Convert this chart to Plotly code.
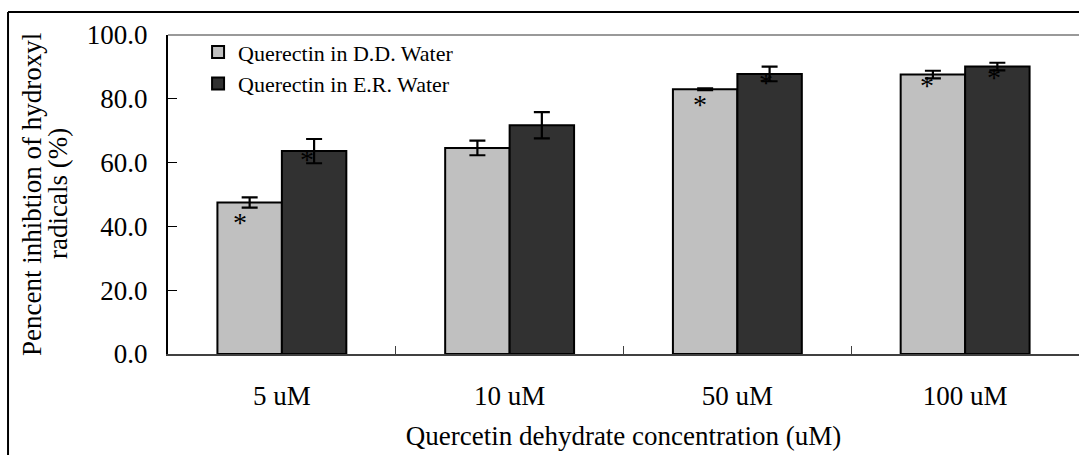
import plotly.graph_objects as go

categories = ["5 uM", "10 uM", "50 uM", "100 uM"]
dd_water = [47.5, 64.6, 83.0, 87.6]
dd_err = [1.6, 2.3, 0.3, 1.2]
er_water = [63.6, 71.7, 87.8, 90.1]
er_err = [3.8, 4.1, 2.3, 1.2]
dd_sig = [True, False, True, True]
er_sig = [True, False, True, True]
y_ticks = [0, 20, 40, 60, 80, 100]
y_ticklabels = ["0.0", "20.0", "40.0", "60.0", "80.0", "100.0"]

FONT = "Liberation Serif, Times New Roman, serif"

fig = go.Figure()
fig.add_trace(go.Bar(
    x=categories, y=dd_water, name="Querectin in D.D. Water",
    marker=dict(color="#C0C0C0", line=dict(color="#000000", width=2)),
    error_y=dict(type="data", array=dd_err, color="#000000", thickness=2.2, width=8),
    legendgroup="a",
))
fig.add_trace(go.Bar(
    x=categories, y=er_water, name="Querectin in E.R. Water",
    marker=dict(color="#313131", line=dict(color="#000000", width=2)),
    error_y=dict(type="data", array=er_err, color="#000000", thickness=2.2, width=8),
    legendgroup="b",
))

# significance asterisks
dd_shift = [(-42, -16), None, (-37, -11), (-38, -7)]
er_shift = [(25, -4), None, (29, -5), (29, -7)]
for i, c in enumerate(categories):
    for sig, vals, sh in ((dd_sig, dd_water, dd_shift), (er_sig, er_water, er_shift)):
        if sig[i] and sh is not None and sh[i] is not None:
            fig.add_annotation(x=c, y=vals[i], text="*", showarrow=False,
                               xshift=sh[i][0], yshift=sh[i][1] - 4,
                               font=dict(family=FONT, size=28, color="#000000"),
                               xanchor="center", yanchor="middle")

# y-axis title, two lines
fig.add_annotation(xref="paper", yref="paper", x=-0.1493, y=0.5016,
                   text="Pencent inhibtion of hydroxyl", textangle=-90, showarrow=False,
                   font=dict(family=FONT, size=27, color="#000000"),
                   xanchor="center", yanchor="middle")
fig.add_annotation(xref="paper", yref="paper", x=-0.1207, y=0.5016,
                   text="radicals (%)", textangle=-90, showarrow=False,
                   font=dict(family=FONT, size=27, color="#000000"),
                   xanchor="center", yanchor="middle")

# plot-area top border (gray) and outer frame
fig.add_shape(type="line", xref="paper", yref="paper", x0=0, x1=1.01, y0=1, y1=1,
              line=dict(color="#999999", width=2))
fig.add_shape(type="line", xref="paper", yref="paper", x0=-0.1756, x1=1.02, y0=1.0721, y1=1.0721,
              line=dict(color="#000000", width=2))
fig.add_shape(type="line", xref="paper", yref="paper", x0=-0.1756, x1=-0.1756, y0=1.0721, y1=-0.4,
              line=dict(color="#000000", width=2))

fig.update_layout(
    width=1079, height=455,
    margin=dict(l=168, r=0, t=35, b=101),
    paper_bgcolor="#FFFFFF", plot_bgcolor="#FFFFFF",
    barmode="group", bargap=0.434, bargroupgap=0,
    font=dict(family=FONT, size=27, color="#000000"),
    showlegend=True,
    legend=dict(x=0.033, y=1.012, xanchor="left", yanchor="top",
                font=dict(family=FONT, size=22, color="#000000"),
                bgcolor="rgba(255,255,255,0)", borderwidth=0,
                tracegroupgap=10, traceorder="normal"),
    xaxis=dict(
        type="category", showgrid=False, zeroline=False,
        showline=True, linecolor="#404040", linewidth=2,
        ticks="inside", tickson="boundaries", ticklen=8, tickcolor="#404040", tickwidth=1,
        tickfont=dict(family=FONT, size=27, color="#000000"),
        ticklabelstandoff=17,
        title=dict(text="Quercetin dehydrate concentration (uM)",
                   font=dict(family=FONT, size=27, color="#000000"), standoff=16),
        range=[-0.5, 3.5],
    ),
    yaxis=dict(
        range=[0, 100], showgrid=False, zeroline=False,
        showline=True, linecolor="#000000", linewidth=2,
        ticks="inside", ticklen=9, tickcolor="#000000", tickwidth=1,
        tickvals=y_ticks, ticktext=y_ticklabels,
        tickfont=dict(family=FONT, size=27, color="#000000"),
        ticklabelstandoff=13,
    ),
)

fig.write_html("out.html")
